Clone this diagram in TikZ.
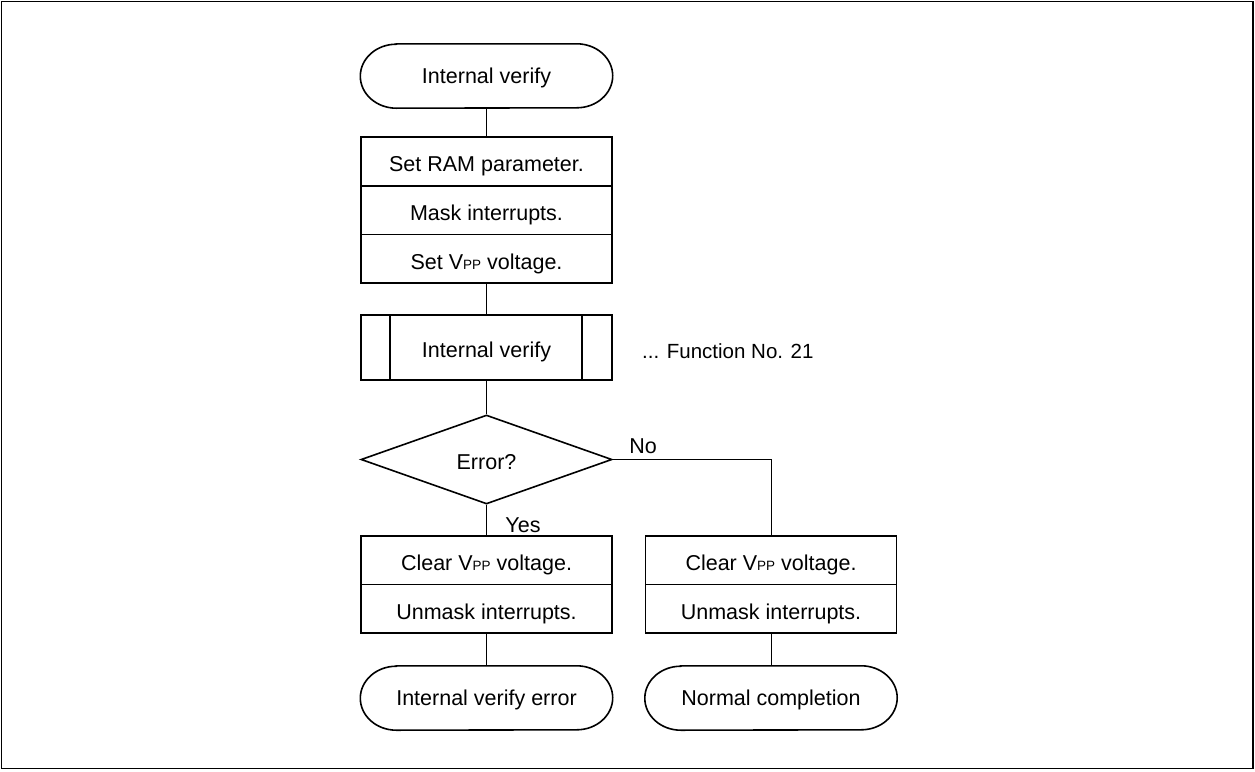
\documentclass[tikz,border=0pt]{standalone}
\usepackage{fontspec}
\setmainfont{Liberation Sans}
\usetikzlibrary{shapes.geometric}
\newcommand{\vpp}{V{\fontsize{13.5}{13.5}\selectfont PP}}
\newcommand{\stadiumpath}[1]{%
  \draw[shapeline] ([xshift=36pt]#1.north west) -- ([xshift=-36pt]#1.north east)
    arc[start angle=90,end angle=-90,x radius=36pt,y radius=32pt]
    -- ([xshift=36pt]#1.south west)
    arc[start angle=270,end angle=90,x radius=36pt,y radius=32pt] -- cycle;}
\begin{document}
\begin{tikzpicture}[x=1pt,y=-1pt,
  font=\fontsize{21.5}{25}\selectfont,
  shapeline/.style={line width=1.6pt,black},
  conn/.style={line width=0.9pt,black},
  term/.style={minimum width=252pt,minimum height=64pt,inner sep=0pt,text height=15.4pt,text depth=0pt},
  rowbox/.style={draw,line width=1.6pt,minimum width=251pt,minimum height=48.6pt,inner sep=0pt,text height=20.8pt,text depth=0pt},
  lbl/.style={inner sep=0pt}]
\useasboundingbox (0,0) rectangle (1255,771);
\draw[line width=1.6pt] (1.5,1.5) rectangle (1253,768.5);

% start terminal
\node[term] (start) at (486.5,76) {Internal verify};
\stadiumpath{start}

% stacked process boxes
\node[rowbox] (b1) at (486.5,161.3) {Set RAM parameter.};
\node[rowbox] (b2) at (486.5,210) {Mask interrupts.};
\node[rowbox] (b3) at (486.5,258.7) {Set \vpp{} voltage.};

% predefined process
\node[rowbox,minimum height=65pt] (pp) at (486.5,347.5) {Internal verify};
\draw[shapeline] ([xshift=30pt]pp.north west) -- ([xshift=30pt]pp.south west);
\draw[shapeline] ([xshift=-31pt]pp.north east) -- ([xshift=-31pt]pp.south east);
\node[lbl,anchor=west,font=\fontsize{20.5}{24}\selectfont] (fn) at (642,351.5) {... Function No. 21};

% decision
\node[draw,shape=diamond,line width=1.6pt,minimum width=251pt,minimum height=89pt,inner sep=0pt] (dec) at (486.5,459.5) {};
\node[lbl] (dect) at (486.5,462) {Error?};

% left branch
\node[rowbox] (l1) at (486.5,560.3) {Clear \vpp{} voltage.};
\node[rowbox] (l2) at (486.5,608.9) {Unmask interrupts.};
\node[term] (endL) at (486.5,698) {Internal verify error};
\stadiumpath{endL}

% right branch
\node[rowbox] (r1) at (771,560.3) {Clear \vpp{} voltage.};
\node[rowbox] (r2) at (771,608.9) {Unmask interrupts.};
\node[term] (endR) at (771,698) {Normal completion};
\stadiumpath{endR}

% labels
\node[lbl] (no) at (643,446) {No};
\node[lbl] (yes) at (523,525) {Yes};

% connectors
\draw[conn] (start.south) -- (b1.north);
\draw[conn] (b3.south) -- (pp.north);
\draw[conn] (pp.south) -- (dec.north);
\draw[conn] (dec.south) -- (l1.north);
\draw[conn] (dec.east) -| (r1.north);
\draw[conn] (l2.south) -- (endL.north);
\draw[conn] (r2.south) -- (endR.north);
\end{tikzpicture}
\end{document}
